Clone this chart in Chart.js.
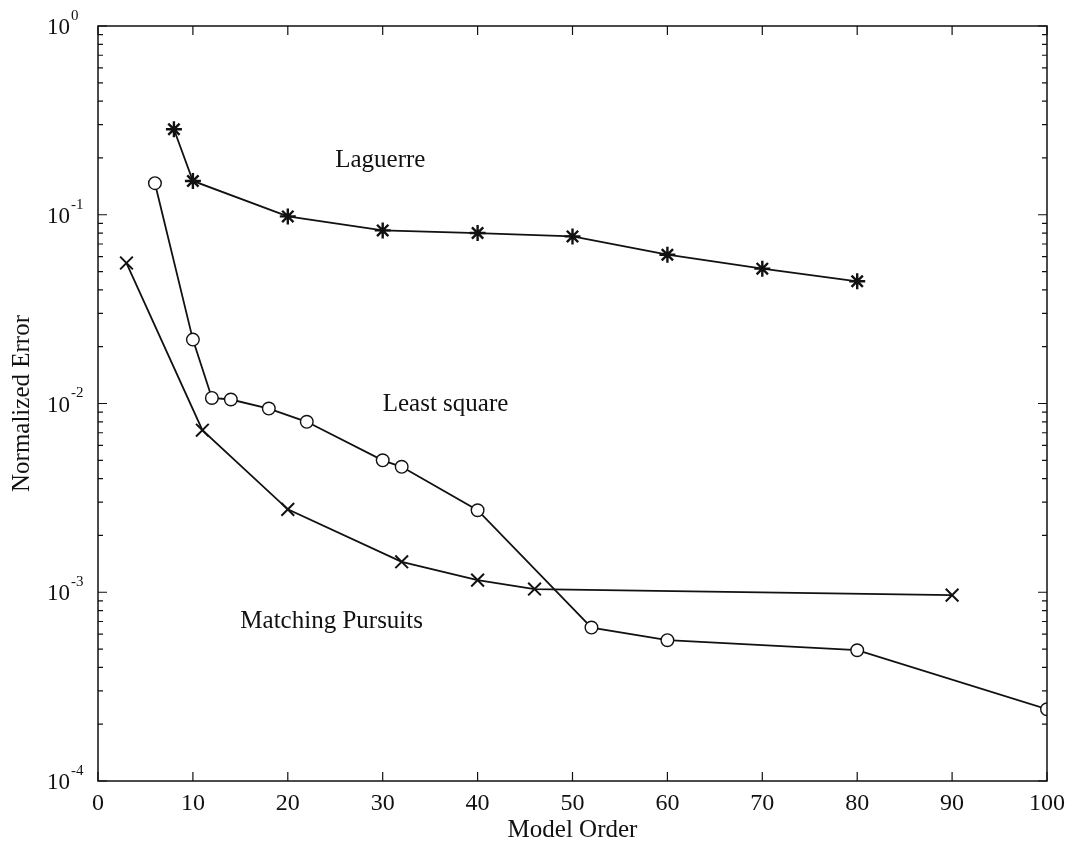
<!DOCTYPE html>
<html>
<head>
<meta charset="utf-8">
<title>Normalized Error vs Model Order</title>
<script src="https://cdn.jsdelivr.net/npm/chart.js@4/dist/chart.umd.min.js"></script>
<style>
  html, body { margin: 0; padding: 0; background: #fff; }
</style>
</head>
<body>
<canvas id="errChart" width="1075" height="845"></canvas>
<script>
/* ---- data ---- */
const laguerreOrder = [8, 10, 20, 30, 40, 50, 60, 70, 80];
const laguerreError = [0.284, 0.151, 0.098, 0.0826, 0.080, 0.0768, 0.0614, 0.0518, 0.0444];

const lsOrder = [6, 10, 12, 14, 18, 22, 30, 32, 40, 52, 60, 80, 100];
const lsError = [0.147, 0.0218, 0.0107, 0.0105, 0.0094, 0.0080, 0.0050, 0.00462, 0.00272,
                 0.00065, 0.000557, 0.000493, 0.00024];

const mpOrder = [3, 11, 20, 32, 40, 46, 90];
const mpError = [0.0555, 0.00722, 0.00275, 0.00145, 0.00116, 0.00104, 0.000965];

const xTickValues = [0, 10, 20, 30, 40, 50, 60, 70, 80, 90, 100];
const yExponents  = [0, -1, -2, -3, -4];
const yMinorFactors = [2, 3, 4, 5, 6, 7, 8, 9];

// text labels inside the plot: [text, model order, error]
const curveLabels = [
  ["Laguerre",          25, 0.195],
  ["Least square",      30, 0.0099],
  ["Matching Pursuits", 15, 0.000703]
];

const SERIF = "'Liberation Serif', 'Times New Roman', serif";
const INK   = "#111";

function toPoints(xs, ys) {
  return xs.map((x, i) => ({ x, y: ys[i] }));
}

/* ---- box, inner ticks, y labels with exponents, curve names ---- */
const matlabFrame = {
  id: "matlabFrame",
  afterDraw(chart) {
    const { ctx, chartArea: a, scales } = chart;
    const xs = scales.x, ys = scales.y;
    ctx.save();
    ctx.strokeStyle = INK;
    ctx.lineWidth = 1.5;
    ctx.strokeRect(a.left, a.top, a.right - a.left, a.bottom - a.top);

    ctx.lineWidth = 1.2;
    ctx.beginPath();
    xTickValues.forEach(v => {
      const px = xs.getPixelForValue(v);
      ctx.moveTo(px, a.bottom); ctx.lineTo(px, a.bottom - 9);
      ctx.moveTo(px, a.top);    ctx.lineTo(px, a.top + 9);
    });
    yExponents.forEach(e => {
      const py = ys.getPixelForValue(Math.pow(10, e));
      ctx.moveTo(a.left, py);  ctx.lineTo(a.left + 9, py);
      ctx.moveTo(a.right, py); ctx.lineTo(a.right - 9, py);
      if (e > -4) {
        yMinorFactors.forEach(f => {
          const pm = ys.getPixelForValue(f * Math.pow(10, e - 1));
          ctx.moveTo(a.left, pm);  ctx.lineTo(a.left + 5, pm);
          ctx.moveTo(a.right, pm); ctx.lineTo(a.right - 5, pm);
        });
      }
    });
    ctx.stroke();

    // y tick labels: 10 with raised exponent
    ctx.fillStyle = INK;
    ctx.textBaseline = "middle";
    yExponents.forEach(e => {
      const py = ys.getPixelForValue(Math.pow(10, e));
      ctx.font = "23px " + SERIF;
      ctx.textAlign = "right";
      ctx.fillText("10", 70, py + 2);
      ctx.font = "15px " + SERIF;
      ctx.textAlign = "left";
      ctx.fillText(String(e), 71, py - 10);
    });

    // curve names
    ctx.font = "25px " + SERIF;
    ctx.textAlign = "left";
    curveLabels.forEach(([txt, x, y]) => {
      ctx.fillText(txt, xs.getPixelForValue(x), ys.getPixelForValue(y));
    });
    ctx.restore();
  }
};

const lineStyle = {
  borderColor: INK,
  borderWidth: 1.8,
  tension: 0,
  fill: false,
  pointBorderColor: INK,
  pointBackgroundColor: "#fff"
};

new Chart(document.getElementById("errChart"), {
  type: "line",
  data: {
    datasets: [
      { ...lineStyle, label: "Laguerre", data: toPoints(laguerreOrder, laguerreError),
        pointStyle: "star", pointRadius: 8, pointBorderWidth: 2.4 },
      { ...lineStyle, label: "Least square", data: toPoints(lsOrder, lsError),
        pointStyle: "circle", pointRadius: 6.3, pointBorderWidth: 1.4 },
      { ...lineStyle, label: "Matching Pursuits", data: toPoints(mpOrder, mpError),
        pointStyle: "crossRot", pointRadius: 9, pointBorderWidth: 2 }
    ]
  },
  options: {
    responsive: false,
    animation: false,
    layout: { padding: { top: 26, right: 28, left: 0, bottom: 0 } },
    plugins: {
      legend: { display: false },
      tooltip: { enabled: false }
    },
    scales: {
      x: {
        type: "linear",
        min: 0,
        max: 100,
        grid: { display: false, drawTicks: false },
        border: { display: false },
        ticks: {
          stepSize: 10,
          padding: 8,
          color: INK,
          font: { family: SERIF, size: 24 }
        },
        title: {
          display: true,
          text: "Model Order",
          color: INK,
          font: { family: SERIF, size: 25 },
          padding: { top: 0, bottom: 0 }
        },
        afterFit(scale) { scale.height = 64; }
      },
      y: {
        type: "logarithmic",
        min: 1e-4,
        max: 1,
        grid: { display: false, drawTicks: false },
        border: { display: false },
        ticks: { display: false },
        title: {
          display: true,
          text: "Normalized Error",
          color: INK,
          font: { family: SERIF, size: 25 },
          padding: { top: 7, bottom: 0 }
        },
        afterFit(scale) { scale.width = 98; }
      }
    }
  },
  plugins: [matlabFrame]
});
</script>
</body>
</html>
